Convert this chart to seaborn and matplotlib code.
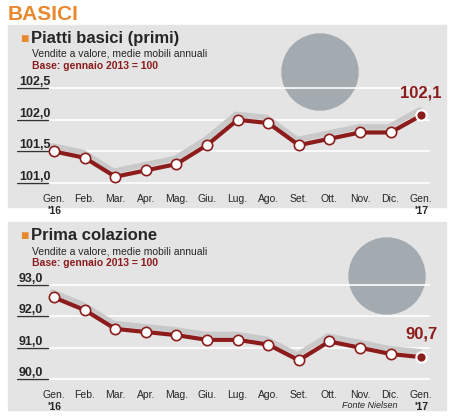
import matplotlib
matplotlib.use("Agg")
import matplotlib.pyplot as plt
from matplotlib.patches import Rectangle, Ellipse
import numpy as np
import pandas as pd
import seaborn as sns

months = ["Gen.", "Feb.", "Mar.", "Apr.", "Mag.", "Giu.", "Lug.", "Ago.",
          "Set.", "Ott.", "Nov.", "Dic.", "Gen."]
years = ["'16", "", "", "", "", "", "", "", "", "", "", "", "'17"]
primi = [101.5, 101.4, 101.1, 101.2, 101.3, 101.6, 102.0, 101.95,
         101.6, 101.7, 101.8, 101.8, 102.07]
colazione = [92.6, 92.2, 91.6, 91.5, 91.4, 91.25, 91.25, 91.1,
             90.6, 91.2, 91.0, 90.8, 90.7]
primi_ticks = [101.0, 101.5, 102.0, 102.5]
colazione_ticks = [90.0, 91.0, 92.0, 93.0]

sns.set_style("white")
plt.rcParams["font.family"] = ["Liberation Sans Narrow", "Liberation Sans", "DejaVu Sans"]

RED = "#8c1c1c"
ORANGE = "#e8892e"
PANEL = "#e4e4e4"
W, H = 454, 416
fig = plt.figure(figsize=(W / 100, H / 100), dpi=100)
fig.patch.set_facecolor("white")


def fx(px):
    return px / W


def fy(py):
    return 1 - py / H


fig.text(fx(8), fy(14), "BASICI", color=ORANGE, fontsize=15, fontweight="bold", va="center")


def panel(top, bot, ax_top, ax_bot, ylim, ticks, values, title, last_label, circ):
    fig.patches.append(Rectangle((fx(8), fy(bot)), fx(438), (bot - top) / H,
                                 transform=fig.transFigure, color=PANEL, zorder=-2))
    fig.patches.append(Ellipse((fx(circ[0]), fy(circ[1])), 2 * circ[2] / W, 2 * circ[2] / H,
                               transform=fig.transFigure, color="#a3abb0", zorder=-1))
    fig.text(fx(20), fy(top + 14), "\u25a0", color=ORANGE, fontsize=10, va="center")
    fig.text(fx(31), fy(top + 14), title, fontsize=12, fontweight="bold", va="center")
    fig.text(fx(32), fy(top + 29), "Vendite a valore, medie mobili annuali", fontsize=7.5, va="center")
    fig.text(fx(32), fy(top + 41), "Base: gennaio 2013 = 100", fontsize=7.5, color=RED,
             fontweight="bold", va="center")

    ax = fig.add_axes([fx(17), fy(ax_bot), fx(413), (ax_bot - ax_top) / H])
    ax.set_zorder(2)
    ax.patch.set_alpha(0)
    ax.set_xlim(-1.21, 12.29)
    ax.set_ylim(*ylim)
    for t in ticks:
        ax.axhline(t, color="white", lw=1.2, zorder=1)
        ax.plot([-1.21, -0.2], [t, t], color="#333333", lw=1, zorder=2)
        ax.text(-1.15, t, f"{t:.1f}".replace(".", ","), fontsize=9, fontweight="bold",
                va="bottom", ha="left")
    df = pd.DataFrame({"x": np.arange(len(values)), "y": values})
    span = ylim[1] - ylim[0]
    ax.plot(df["x"] - 0.05, df["y"] + span * 0.05, color="#c9c9c9", lw=4, zorder=2,
            solid_capstyle="round")
    sns.lineplot(data=df, x="x", y="y", ax=ax, color=RED, lw=3, zorder=3)
    ax.scatter(df["x"][:-1], df["y"][:-1], s=55, facecolor="white", edgecolor=RED, lw=1.2, zorder=4)
    ax.scatter([df["x"].iloc[-1]], [df["y"].iloc[-1]], s=55, facecolor=RED, edgecolor="white",
               lw=1.5, zorder=4)
    ax.text(df["x"].iloc[-1], df["y"].iloc[-1] + span * 0.14, last_label, color=RED,
            fontsize=12, fontweight="bold", ha="center", va="bottom")
    for i, (m, yr) in enumerate(zip(months, years)):
        ax.text(i, -0.04, m, transform=ax.get_xaxis_transform(), fontsize=7.5, ha="center", va="top")
        if yr:
            ax.text(i, -0.15, yr, transform=ax.get_xaxis_transform(), fontsize=7.5,
                    fontweight="bold", ha="center", va="top")
    ax.axis("off")
    return ax


panel(25, 207, 80, 190, (100.89, 102.63), primi_ticks, primi, "Piatti basici (primi)",
      "102,1", (320, 72, 38))
ax2 = panel(222, 410, 278, 386, (89.78, 93.22), colazione_ticks, colazione, "Prima colazione",
            "90,7", (387, 276, 38))
fig.text(fx(398), fy(405), "Fonte Nielsen", fontsize=6.5, style="italic", ha="right", va="center")

fig.savefig("out.png", dpi=100)
